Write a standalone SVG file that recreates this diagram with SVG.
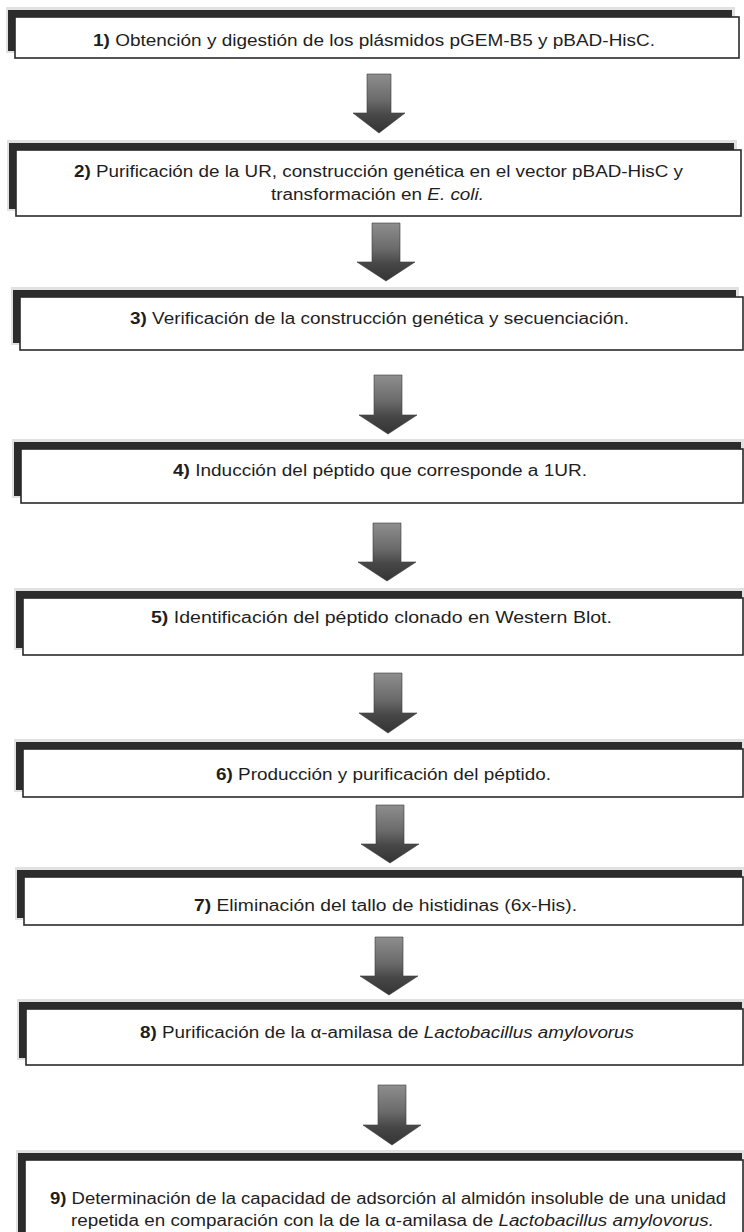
<svg xmlns="http://www.w3.org/2000/svg" width="744" height="1232" viewBox="0 0 744 1232">
<defs>
<linearGradient id="ag" x1="0" y1="0" x2="0" y2="1">
<stop offset="0" stop-color="#8e8e8e"/>
<stop offset="0.45" stop-color="#6a6a6a"/>
<stop offset="0.7" stop-color="#474747"/>
<stop offset="1" stop-color="#343434"/>
</linearGradient>
<style>
.fr{fill:#c8c8c8;opacity:0.55}
.sh{fill:#2c2c2c}
.bx{fill:#ffffff;stroke:#2a2a2a;stroke-width:1.6}
.t{font-family:"Liberation Sans","DejaVu Sans",sans-serif;font-size:16px;fill:#1e1e1e}
.b{font-weight:bold}
.i{font-style:italic}
.ar{fill:url(#ag);stroke:#3a3a3a;stroke-width:0.6}
</style>
</defs>
<rect width="744" height="1232" fill="#ffffff"/>

<g id="connectors">
<path class="ar" d="M367,74 H391 V113 H405 L379,133 L353,113 H367 Z"/>
<path class="ar" d="M372,223 H400 V262 H415 L386,281 L357,262 H372 Z"/>
<path class="ar" d="M374,375 H402 V415 H417 L388,434 L359,415 H374 Z"/>
<path class="ar" d="M373,523 H401 V562 H416 L387,581 L358,562 H373 Z"/>
<path class="ar" d="M374,673 H402 V713 H417 L388,733 L359,713 H374 Z"/>
<path class="ar" d="M376,805 H404 V844 H419 L390,863 L361,844 H376 Z"/>
<path class="ar" d="M375,937 H403 V976 H418 L389,995 L360,976 H375 Z"/>
<path class="ar" d="M378,1085 H406 V1125 H421 L392,1145 L363,1125 H378 Z"/>
</g>

<g id="node-1">
<rect class="fr" x="6" y="7" width="729" height="46"/>
<rect class="sh" x="8" y="10" width="724" height="41"/>
<rect class="bx" x="15" y="17" width="724" height="41"/>
<text class="t" x="93" y="46" textLength="562" lengthAdjust="spacingAndGlyphs"><tspan class="b">1)</tspan> Obtención  y digestión de los plásmidos pGEM-B5 y pBAD-HisC.</text>
</g>

<g id="node-2">
<rect class="fr" x="7" y="140" width="730" height="71"/>
<rect class="sh" x="9" y="143" width="725" height="66"/>
<rect class="bx" x="16" y="150" width="725" height="66"/>
<text class="t" x="74" y="177" textLength="609" lengthAdjust="spacingAndGlyphs"><tspan class="b">2)</tspan> Purificación de la UR, construcción genética en el vector pBAD-HisC y</text>
<text class="t" x="271" y="200" textLength="213" lengthAdjust="spacingAndGlyphs">transformación en <tspan class="i">E. coli.</tspan></text>
</g>

<g id="node-3">
<rect class="fr" x="11" y="287" width="728" height="58"/>
<rect class="sh" x="13" y="290" width="723" height="53"/>
<rect class="bx" x="20" y="297" width="723" height="53"/>
<text class="t" x="130" y="324" textLength="499" lengthAdjust="spacingAndGlyphs"><tspan class="b">3)</tspan> Verificación de la construcción genética y secuenciación.</text>
</g>

<g id="node-4">
<rect class="fr" x="12" y="439" width="732" height="59"/>
<rect class="sh" x="14" y="442" width="727" height="54"/>
<rect class="bx" x="21" y="449" width="722" height="54"/>
<text class="t" x="173" y="476" textLength="414" lengthAdjust="spacingAndGlyphs"><tspan class="b">4)</tspan>  Inducción del péptido que corresponde a 1UR.</text>
</g>

<g id="node-5">
<rect class="fr" x="14" y="588" width="730" height="62"/>
<rect class="sh" x="16" y="591" width="726" height="57"/>
<rect class="bx" x="23" y="598" width="720" height="57"/>
<text class="t" x="151" y="623" textLength="461" lengthAdjust="spacingAndGlyphs"><tspan class="b">5)</tspan> Identificación del péptido clonado en Western Blot.</text>
</g>

<g id="node-6">
<rect class="fr" x="14" y="739" width="730" height="53"/>
<rect class="sh" x="16" y="742" width="726" height="48"/>
<rect class="bx" x="23" y="749" width="720" height="48"/>
<text class="t" x="216" y="780" textLength="335" lengthAdjust="spacingAndGlyphs"><tspan class="b">6)</tspan> Producción y purificación del péptido.</text>
</g>

<g id="node-7">
<rect class="fr" x="15" y="867" width="729" height="53"/>
<rect class="sh" x="17" y="870" width="725" height="48"/>
<rect class="bx" x="24" y="877" width="719" height="48"/>
<text class="t" x="194" y="911" textLength="383" lengthAdjust="spacingAndGlyphs"><tspan class="b">7)</tspan> Eliminación del tallo de histidinas (6x-His).</text>
</g>

<g id="node-8">
<rect class="fr" x="17" y="999" width="727" height="61"/>
<rect class="sh" x="19" y="1002" width="723" height="56"/>
<rect class="bx" x="26" y="1009" width="717" height="56"/>
<text class="t" x="140" y="1038" textLength="494" lengthAdjust="spacingAndGlyphs"><tspan class="b">8)</tspan> Purificación de la α-amilasa de <tspan class="i">Lactobacillus amylovorus</tspan></text>
</g>

<g id="node-9">
<rect class="fr" x="16" y="1150" width="728" height="90"/>
<rect class="sh" x="18" y="1153" width="724" height="85"/>
<rect class="bx" x="25" y="1160" width="718" height="85"/>
<text class="t" x="50" y="1204" textLength="676" lengthAdjust="spacingAndGlyphs"><tspan class="b">9)</tspan> Determinación de la capacidad de adsorción al almidón insoluble de una unidad</text>
<text class="t" x="71" y="1226" textLength="643" lengthAdjust="spacingAndGlyphs">repetida en comparación con la de la α-amilasa de <tspan class="i">Lactobacillus amylovorus.</tspan></text>
</g>
</svg>
